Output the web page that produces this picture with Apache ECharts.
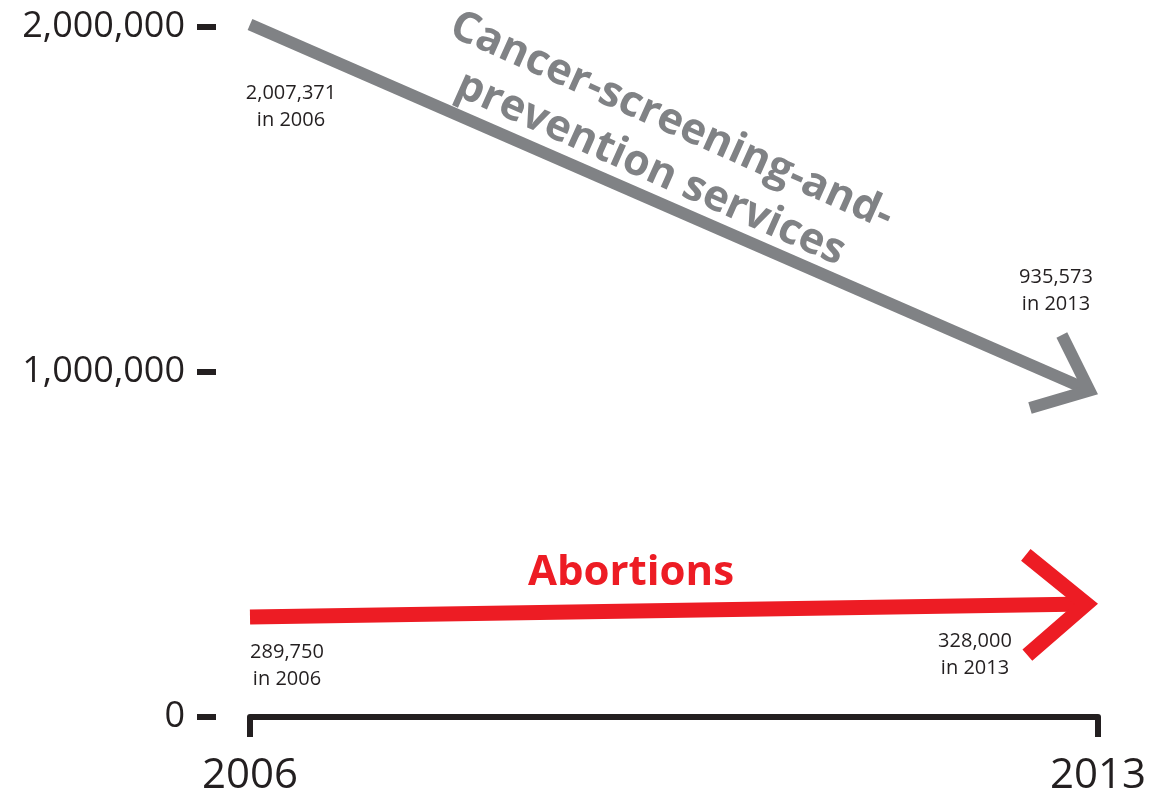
<!DOCTYPE html>
<html>
<head>
<meta charset="utf-8">
<script src="https://cdn.jsdelivr.net/npm/echarts@6/dist/echarts.min.js"></script>
<style>
  html, body { margin: 0; padding: 0; background: #fff; }
  #chart { width: 1174px; height: 797px; }
</style>
</head>
<body>
<div id="chart"></div>
<script>
// data
const years = [2006, 2013];
const cancerValues = [2007371, 935573];
const abortionValues = [289750, 328000];
const yTicks = [0, 1000000, 2000000];

const INK = '#231f20';
const GREY = '#808285';
const RED = '#ed1c24';
const FONT = '"Open Sans", "Noto Sans", sans-serif';

const fmt = v => v.toLocaleString('en-US');

// arrow = shaft + chevron head, plus the two little value notes
function arrowSeries(name, values, color, width, headLen, noteOffsets) {
  return {
    type: 'custom',
    name: name,
    silent: true,
    data: [[years[0], values[0], years[1], values[1]]],
    encode: { x: [0, 2], y: [1, 3] },
    renderItem: function (params, api) {
      const p0 = api.coord([api.value(0), api.value(1)]);
      const p1 = api.coord([api.value(2), api.value(3)]);
      const dx = p1[0] - p0[0], dy = p1[1] - p0[1];
      const len = Math.hypot(dx, dy);
      const ux = dx / len, uy = dy / len;
      const half = 40 * Math.PI / 180;
      // pull the centre of the tip back so the outer point sits on the data point
      const miter = width / 2 / Math.sin(half);
      const tip = [p1[0] - ux * miter, p1[1] - uy * miter];
      const back = Math.atan2(-uy, -ux);
      const arm = a => [tip[0] + Math.cos(back + a) * headLen, tip[1] + Math.sin(back + a) * headLen];

      const children = [
        {
          type: 'line',
          shape: { x1: p0[0], y1: p0[1], x2: tip[0], y2: tip[1] },
          style: { stroke: color, lineWidth: width, lineCap: 'butt' }
        },
        {
          type: 'polyline',
          shape: { points: [arm(half), tip, arm(-half)] },
          style: { stroke: color, lineWidth: width, fill: null, lineJoin: 'miter', miterLimit: 10, lineCap: 'butt' }
        }
      ];

      [p0, p1].forEach((p, i) => {
        children.push({
          type: 'text',
          x: p[0] + noteOffsets[i][0],
          y: p[1] + noteOffsets[i][1],
          style: {
            text: fmt(values[i]) + '\nin ' + years[i],
            fill: INK,
            fontSize: 20,
            fontFamily: FONT,
            lineHeight: 27,
            align: 'center',
            verticalAlign: 'middle'
          }
        });
      });

      return { type: 'group', children: children };
    }
  };
}

const chart = echarts.init(document.getElementById('chart'));

const option = {
  backgroundColor: '#fff',
  animation: false,
  grid: { left: 250, right: 76, top: 27, bottom: 80, containLabel: false, outerBoundsMode: 'none' },
  xAxis: {
    type: 'value',
    min: years[0],
    max: years[years.length - 1],
    splitLine: { show: false },
    axisLine: { show: true, lineStyle: { color: INK, width: 6 } },
    axisTick: { show: true, customValues: years, length: 20, lineStyle: { color: INK, width: 6 } },
    axisLabel: {
      customValues: years,
      formatter: v => String(v),
      color: INK,
      fontSize: 42,
      fontFamily: FONT,
      margin: 38
    }
  },
  yAxis: {
    type: 'value',
    min: yTicks[0],
    max: yTicks[yTicks.length - 1],
    interval: yTicks[1] - yTicks[0],
    offset: 34,
    splitLine: { show: false },
    axisLine: { show: false },
    axisTick: { show: true, length: 19, lineStyle: { color: INK, width: 6 } },
    axisLabel: {
      formatter: v => fmt(v),
      color: INK,
      fontSize: 36,
      fontFamily: FONT,
      margin: 31
    }
  },
  graphic: [
    {
      type: 'text',
      x: 661,
      y: 145,
      rotation: -24 * Math.PI / 180,
      silent: true,
      style: {
        text: 'Cancer-screening-and-\nprevention services',
        fill: GREY,
        fontSize: 43,
        fontWeight: 'bold',
        fontFamily: FONT,
        lineHeight: 52,
        align: 'center',
        verticalAlign: 'middle'
      }
    },
    {
      type: 'text',
      x: 631,
      y: 573,
      silent: true,
      style: {
        text: 'Abortions',
        fill: RED,
        fontSize: 42,
        fontWeight: 'bold',
        fontFamily: FONT,
        align: 'center',
        verticalAlign: 'middle'
      }
    }
  ],
  series: [
    arrowSeries('Cancer-screening-and-prevention services', cancerValues, GREY, 12, 62, [[41, 82], [-42, -103]]),
    arrowSeries('Abortions', abortionValues, RED, 15, 78, [[37, 49], [-123, 51]])
  ]
};

chart.setOption(option);
window.addEventListener('resize', () => chart.resize());
</script>
</body>
</html>
